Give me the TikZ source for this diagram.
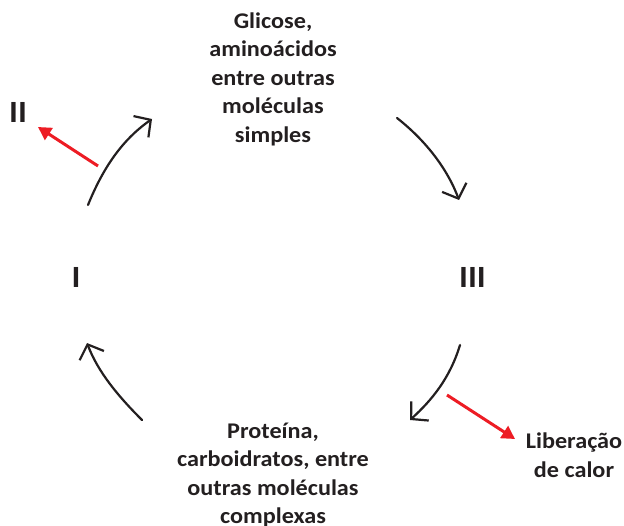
\documentclass[tikz,border=0pt]{standalone}
\usepackage{fontspec}
\setmainfont{Carlito}[FakeStretch=1.08]
\usetikzlibrary{arrows.meta}
\definecolor{txt}{HTML}{231F20}
\definecolor{redar}{HTML}{ED1C24}
\tikzset{
  lbl/.style={font=\fontsize{22.5}{28.6}\selectfont\bfseries, text=txt, align=center, inner sep=0pt},
  roman/.style={font=\fontsize{31}{34}\selectfont\bfseries, text=txt, inner sep=0pt},
  cyc/.style={draw=txt, line width=2.2bp, line cap=round, -{Straight Barb[length=12bp,width=26bp,line width=2.2bp]}},
  redarrow/.style={draw=redar, line width=3bp, -{Triangle[length=13bp,width=14bp]}}
}
\begin{document}
\begin{tikzpicture}[x=1bp,y=-1bp]
\useasboundingbox (0,0) rectangle (624,526);
\node[lbl] (simple) at (273,79) {Glicose,\\aminoácidos\\entre outras\\moléculas\\simples};
\node[lbl] (complex) at (273,475) {Proteína,\\carboidratos, entre\\outras moléculas\\complexas};
\node[lbl] (calor) at (574,455) {Liberação\\de calor};
\node[roman] (I) at (76,277) {I};
\node[roman] (II) at (18,112) {II};
\node[roman] (III) at (472.5,277) {III};
% cycle arrows
\coordinate (a1) at (88,205); \coordinate (b1) at (152,119);
\coordinate (a2) at (397,118); \coordinate (b2) at (459,200);
\coordinate (a3) at (460,345); \coordinate (b3) at (410,420);
\coordinate (a4) at (142,420); \coordinate (b4) at (87,343);
\draw[cyc] (a1) .. controls (103,168) and (122,140) .. (b1);
\draw[cyc] (a2) .. controls (425,140) and (447,168) .. (b2);
\draw[cyc] (a3) .. controls (450,378) and (432,400) .. (b3);
\draw[cyc] (a4) .. controls (118,396) and (98,372) .. (b4);
% red arrows
\coordinate (r1) at (98,166); \coordinate (r2) at (447,395);
\draw[redarrow] (r1) -- (38,127) coordinate (r1e);
\draw[redarrow] (r2) -- (515,439) coordinate (r2e);
\end{tikzpicture}
\end{document}
